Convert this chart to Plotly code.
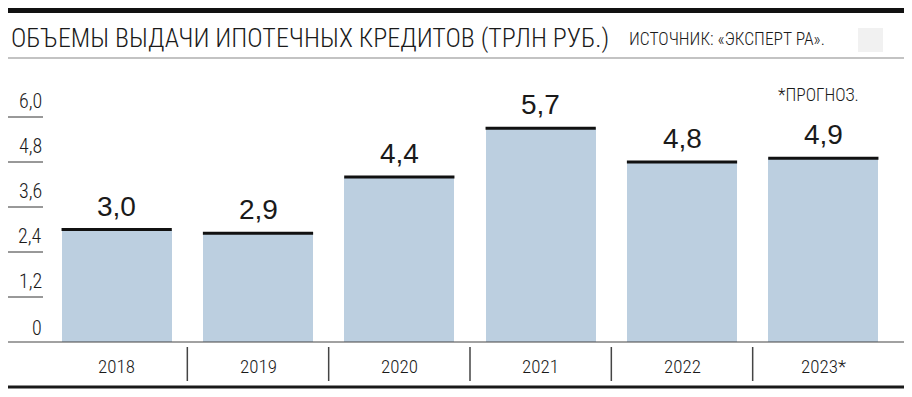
import plotly.graph_objects as go

years = ["2018", "2019", "2020", "2021", "2022", "2023*"]
values = [3.0, 2.9, 4.4, 5.7, 4.8, 4.9]
value_labels = ["3,0", "2,9", "4,4", "5,7", "4,8", "4,9"]
y_ticks = [0, 1.2, 2.4, 3.6, 4.8, 6.0]
y_tick_labels = ["0", "1,2", "2,4", "3,6", "4,8", "6,0"]

title_text = "ОБЪЕМЫ ВЫДАЧИ ИПОТЕЧНЫХ КРЕДИТОВ (ТРЛН РУБ.)"
source_text = "ИСТОЧНИК: «ЭКСПЕРТ РА»."
note_text = "*ПРОГНОЗ."

OFF = 8  # browser body margin
W, H = 912 - OFF, 397 - OFF
ML, MR, MT, MB = 46 - OFF, 18, 80 - OFF, 55
PW = W - ML - MR
PH = H - MT - MB
Y0 = 342  # baseline row in the reference picture


def px(x):
    return (x - OFF - ML) / PW


def py(y):
    return (Y0 - y) / PH


NARROW = "Roboto Condensed, Liberation Sans Narrow, sans-serif"
REG = "Liberation Sans, Arial, sans-serif"
LW = 350
BAR_W = 0.78
x_idx = list(range(len(years)))

fig = go.Figure()
fig.add_trace(go.Bar(
    x=x_idx, y=values, width=BAR_W,
    marker=dict(color="#bccfe0", line=dict(width=0)),
    hoverinfo="skip", showlegend=False,
))

shapes = []
annotations = []

for i, v in enumerate(values):
    shapes.append(dict(type="line", xref="x", yref="y",
                       x0=i - BAR_W / 2, x1=i + BAR_W / 2, y0=v, y1=v,
                       line=dict(color="#111111", width=3)))
    annotations.append(dict(x=i, y=v, xref="x", yref="y", text=value_labels[i],
                            showarrow=False, yanchor="bottom", yshift=6,
                            font=dict(family=REG, size=28, color="#1a1a1a")))

for t, lab in zip(y_ticks, y_tick_labels):
    if t > 0:
        shapes.append(dict(type="line", xref="paper", yref="y",
                           x0=px(7), x1=px(43), y0=t, y1=t,
                           line=dict(color="#333333", width=1)))
    annotations.append(dict(x=px(44), y=t, xref="paper", yref="y", text=lab,
                            showarrow=False, xanchor="right", yanchor="bottom",
                            yshift=2 if t > 0 else 0,
                            font=dict(family=NARROW, size=20, weight=LW, color="#1a1a1a")))

shapes.append(dict(type="line", xref="paper", yref="paper",
                   x0=px(7), x1=px(905), y0=py(342), y1=py(342),
                   line=dict(color="#444444", width=1.2)))
for i in range(len(years) - 1):
    shapes.append(dict(type="line", xref="x", yref="paper",
                       x0=i + 0.5, x1=i + 0.5, y0=py(347), y1=py(381),
                       line=dict(color="#444444", width=1.5)))
for i, yr in enumerate(years):
    annotations.append(dict(x=i, y=py(366), xref="x", yref="paper", text=yr,
                            showarrow=False, yanchor="middle",
                            font=dict(family=NARROW, size=19, weight=LW, color="#1a1a1a")))
shapes.append(dict(type="line", xref="paper", yref="paper",
                   x0=px(8), x1=px(905), y0=py(387), y1=py(387),
                   line=dict(color="#1a1a1a", width=3)))
shapes.append(dict(type="line", xref="paper", yref="paper",
                   x0=px(8), x1=px(905), y0=py(10), y1=py(10),
                   line=dict(color="#111111", width=6)))
shapes.append(dict(type="line", xref="paper", yref="paper",
                   x0=px(8), x1=px(905), y0=py(58), y1=py(58),
                   line=dict(color="#888888", width=1.2)))
# faint logo block
shapes.append(dict(type="rect", xref="paper", yref="paper",
                   x0=px(858), x1=px(883), y0=py(52), y1=py(28),
                   line=dict(width=0), fillcolor="#f1f1f1"))

annotations.append(dict(x=px(9), y=py(38), xref="paper", yref="paper",
                        text=title_text, showarrow=False, xanchor="left", yanchor="middle",
                        font=dict(family=NARROW, size=26, weight=LW, color="#1a1a1a")))
annotations.append(dict(x=px(627), y=py(39), xref="paper", yref="paper",
                        text=source_text, showarrow=False, xanchor="left", yanchor="middle",
                        font=dict(family=NARROW, size=17.5, weight=LW, color="#1a1a1a")))
annotations.append(dict(x=px(861), y=py(95), xref="paper", yref="paper",
                        text=note_text, showarrow=False, xanchor="right", yanchor="middle",
                        font=dict(family=NARROW, size=17.5, weight=LW, color="#1a1a1a")))

fig.update_layout(
    width=W, height=H,
    margin=dict(l=ML, r=MR, t=MT, b=MB),
    paper_bgcolor="white", plot_bgcolor="white",
    xaxis=dict(range=[-0.5, 5.5], visible=False, fixedrange=True),
    yaxis=dict(range=[0, PH / 37.5], visible=False, fixedrange=True),
    shapes=shapes, annotations=annotations,
    bargap=0, showlegend=False,
)

fig.write_html("out.html")
